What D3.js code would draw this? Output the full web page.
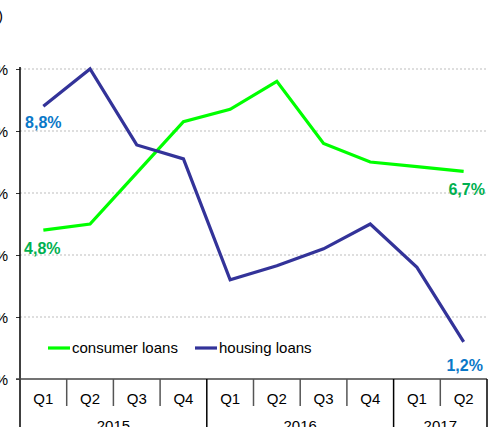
<!DOCTYPE html>
<html><head><meta charset="utf-8">
<script src="https://cdn.jsdelivr.net/npm/d3@7"></script>
<style>body{margin:0;background:#fff;overflow:hidden}svg{display:block;font-family:"Liberation Sans",Arial,sans-serif}</style>
</head><body>
<svg id="c" width="499" height="427"></svg>
<script>
const quarters = ["Q1","Q2","Q3","Q4","Q1","Q2","Q3","Q4","Q1","Q2"];
const years = ["2015","2016","2017"];
const yearSpan = [4,4,2];
const consumer = [4.8,5.0,6.65,8.3,8.7,9.6,7.6,7.0,6.85,6.7];
const housing = [8.8,10.0,7.55,7.1,3.2,3.65,4.2,5.0,3.6,1.2];
const yTicks = [0,2,4,6,8,10];
const seriesNames = ["consumer loans","housing loans"];

(function(){
const svg = d3.select("#c");
const pL = 20, pR = 487, pT = 69, pB = 379;
const idx = quarters.map((q,i)=>i);
const x = d3.scaleBand().domain(idx).range([pL,pR]).padding(0);
const y = d3.scaleLinear().domain([0,10]).range([pB,pT]);
const cx = i => x(i)+x.bandwidth()/2;

// gridlines
svg.append("g").selectAll("line").data(yTicks.filter(t=>t>0)).join("line")
  .attr("x1",pL).attr("x2",pR).attr("y1",d=>y(d)).attr("y2",d=>y(d))
  .attr("stroke","#bdbdbd").attr("stroke-width",1).attr("stroke-dasharray","2,2");

// y axis
const ya = d3.axisLeft(y).tickValues(yTicks).tickSize(4).tickFormat(d=>d+"%");
const yg = svg.append("g").attr("transform",`translate(${pL},0)`).call(ya);
yg.select(".domain").remove();
yg.selectAll(".tick line").attr("stroke","#333");
yg.selectAll(".tick text").attr("font-size",15).attr("fill","#000").attr("x",-12).attr("dy","0.35em");
svg.append("line").attr("x1",pL).attr("x2",pL).attr("y1",pT-2).attr("y2",427)
  .attr("stroke","#000").attr("stroke-width",1.5);

// title fragment
svg.append("text").attr("x",3).attr("y",21).attr("text-anchor","end").attr("font-size",15).text("(%)");

// x axis baseline
svg.append("line").attr("x1",pL-4).attr("x2",pR).attr("y1",pB).attr("y2",pB)
  .attr("stroke","#444").attr("stroke-width",1.5);

// quarter separators
const bounds = d3.range(1, quarters.length+1);
let yb = [0]; yearSpan.forEach(s=>yb.push(yb[yb.length-1]+s));
svg.append("g").selectAll("line").data(bounds).join("line")
  .attr("x1",d=> d<quarters.length ? x(d) : pR).attr("x2",d=> d<quarters.length ? x(d) : pR)
  .attr("y1",pB).attr("y2",d=> yb.includes(d) ? 427 : 406)
  .attr("stroke",d=> yb.includes(d) ? "#000" : "#555").attr("stroke-width",1.5);

// quarter labels
svg.append("g").selectAll("text").data(idx).join("text")
  .attr("x",d=>cx(d)).attr("y",404).attr("text-anchor","middle").attr("font-size",15)
  .attr("fill","#000").text(d=>quarters[d]);

// year labels
svg.append("g").selectAll("text").data(years).join("text")
  .attr("x",(d,i)=>{const a=x(yb[i]); const b= yb[i+1]<quarters.length ? x(yb[i+1]) : pR; return (a+b)/2;})
  .attr("y",431).attr("text-anchor","middle").attr("font-size",15).attr("fill","#000").text(d=>d);

// lines
const line = d3.line().x((d,i)=>cx(i)).y(d=>y(d));
svg.append("path").datum(consumer).attr("d",line).attr("fill","none")
  .attr("stroke","#00ff00").attr("stroke-width",3.2);
svg.append("path").datum(housing).attr("d",line).attr("fill","none")
  .attr("stroke","#333399").attr("stroke-width",3.2);

// value labels
const fmt = v => v.toFixed(1).replace(".",",")+"%";
const n = quarters.length-1;
const labels = [
  {v:housing[0], i:0, dx:0, dy:22, c:"#0a78c8"},
  {v:consumer[0], i:0, dx:-1, dy:24, c:"#00b050"},
  {v:consumer[n], i:n, dx:3, dy:24, c:"#00b050"},
  {v:housing[n], i:n, dx:1, dy:29, c:"#0a78c8"}
];
svg.append("g").selectAll("text").data(labels).join("text")
  .attr("x",d=>cx(d.i)+d.dx).attr("y",d=>y(d.v)+d.dy).attr("text-anchor","middle")
  .attr("font-size",16).attr("font-weight","bold").attr("fill",d=>d.c).text(d=>fmt(d.v));

// legend
const lg = svg.append("g");
const lx = [48,195], colors = ["#00ff00","#333399"];
seriesNames.forEach((s,k)=>{
  lg.append("line").attr("x1",lx[k]).attr("x2",lx[k]+22).attr("y1",348).attr("y2",348)
    .attr("stroke",colors[k]).attr("stroke-width",3.2);
  lg.append("text").attr("x",lx[k]+24).attr("y",353).attr("font-size",15).attr("fill","#000").text(s);
});
})();
</script>
</body></html>
